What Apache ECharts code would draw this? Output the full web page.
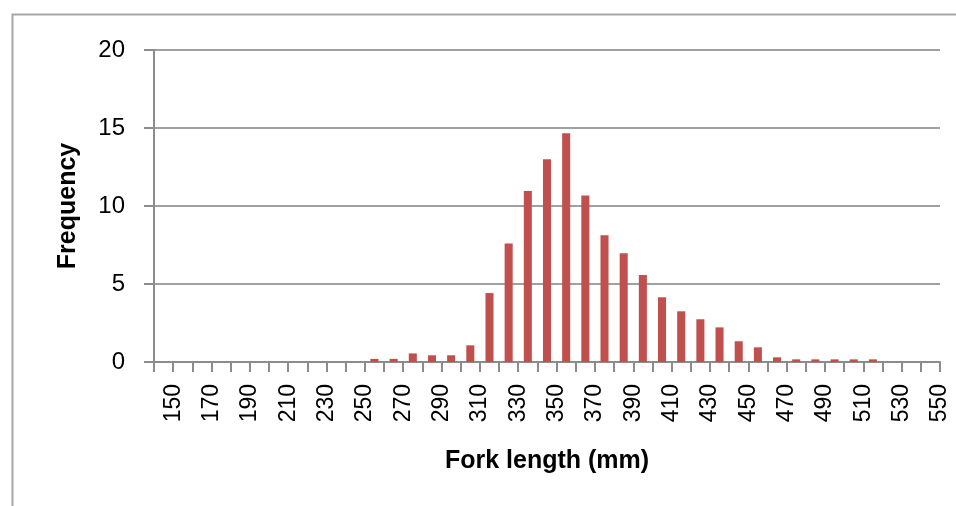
<!DOCTYPE html>
<html>
<head>
<meta charset="utf-8">
<script src="https://cdn.jsdelivr.net/npm/echarts@6/dist/echarts.min.js"></script>
<style>
  html, body { margin: 0; padding: 0; background: #ffffff; }
  #chart { width: 956px; height: 506px; }
</style>
</head>
<body>
<div id="chart"></div>
<script>
// bins by lower edge (mm), 10 mm wide
const bins = [140, 150, 160, 170, 180, 190, 200, 210, 220, 230, 240,
  250, 260, 270, 280, 290, 300, 310, 320, 330, 340,
  350, 360, 370, 380, 390, 400, 410, 420, 430, 440,
  450, 460, 470, 480, 490, 500, 510, 520, 530, 540]
const frequency = [0, 0, 0, 0, 0, 0, 0, 0, 0, 0, 0,
  0.2, 0.2, 0.55, 0.43, 0.43, 1.07, 4.42, 7.6, 10.96, 13.0,
  14.66, 10.68, 8.12, 6.97, 5.57, 4.15, 3.25, 2.74, 2.22, 1.33,
  0.94, 0.3, 0.17, 0.17, 0.17, 0.17, 0.17, 0, 0, 0]
const tickLabels = [150, 170, 190, 210, 230, 250, 270, 290, 310, 330, 350,
  370, 390, 410, 430, 450, 470, 490, 510, 530, 550]
const yTicks = [0, 5, 10, 15, 20]

const font = '"Liberation Sans", Arial, sans-serif'
const axisGray = '#8c8c8c'

const chart = echarts.init(document.getElementById('chart'))

chart.setOption({
  animation: false,
  backgroundColor: '#ffffff',
  grid: { left: 154, right: 16, top: 50, bottom: 144 },
  graphic: [
    {
      type: 'polyline',
      shape: { points: [[12.5, 506], [12.5, 14.5], [956, 14.5]] },
      style: { stroke: '#a6a6a6', lineWidth: 2, fill: null }
    }
  ],
  xAxis: [
    {
      type: 'category',
      data: bins,
      boundaryGap: true,
      axisLine: { lineStyle: { color: axisGray, width: 2 } },
      axisTick: { show: true, interval: 0, length: 10, lineStyle: { color: axisGray, width: 2 } },
      axisLabel: { show: false },
      splitLine: { show: false },
      name: 'Fork length (mm)',
      nameLocation: 'middle',
      nameGap: 87,
      nameTextStyle: { fontFamily: font, fontSize: 25, fontWeight: 'bold', color: '#000' }
    },
    {
      type: 'value',
      position: 'bottom',
      min: 140,
      max: 550,
      interval: 10,
      axisLine: { show: false },
      axisTick: { show: false },
      splitLine: { show: false },
      axisLabel: {
        rotate: 90,
        margin: 22,
        fontFamily: font,
        fontSize: 23,
        color: '#000',
        formatter(v) {
          return tickLabels.includes(v) ? String(v) : ''
        }
      }
    }
  ],
  yAxis: {
    type: 'value',
    min: yTicks[0],
    max: yTicks[yTicks.length - 1],
    interval: 5,
    axisLine: { show: true, lineStyle: { color: axisGray, width: 2 } },
    axisTick: { show: true, length: 10, lineStyle: { color: axisGray, width: 2 } },
    splitLine: { lineStyle: { color: '#a0a0a0', width: 2 } },
    axisLabel: { margin: 29, fontFamily: font, fontSize: 24, color: '#000' },
    name: 'Frequency',
    nameLocation: 'middle',
    nameGap: 73,
    nameTextStyle: { fontFamily: font, fontSize: 25, fontWeight: 'bold', color: '#000' }
  },
  series: [
    {
      type: 'bar',
      xAxisIndex: 0,
      data: frequency,
      barWidth: '42%',
      itemStyle: { color: '#c0504d' }
    }
  ]
})
</script>
</body>
</html>
